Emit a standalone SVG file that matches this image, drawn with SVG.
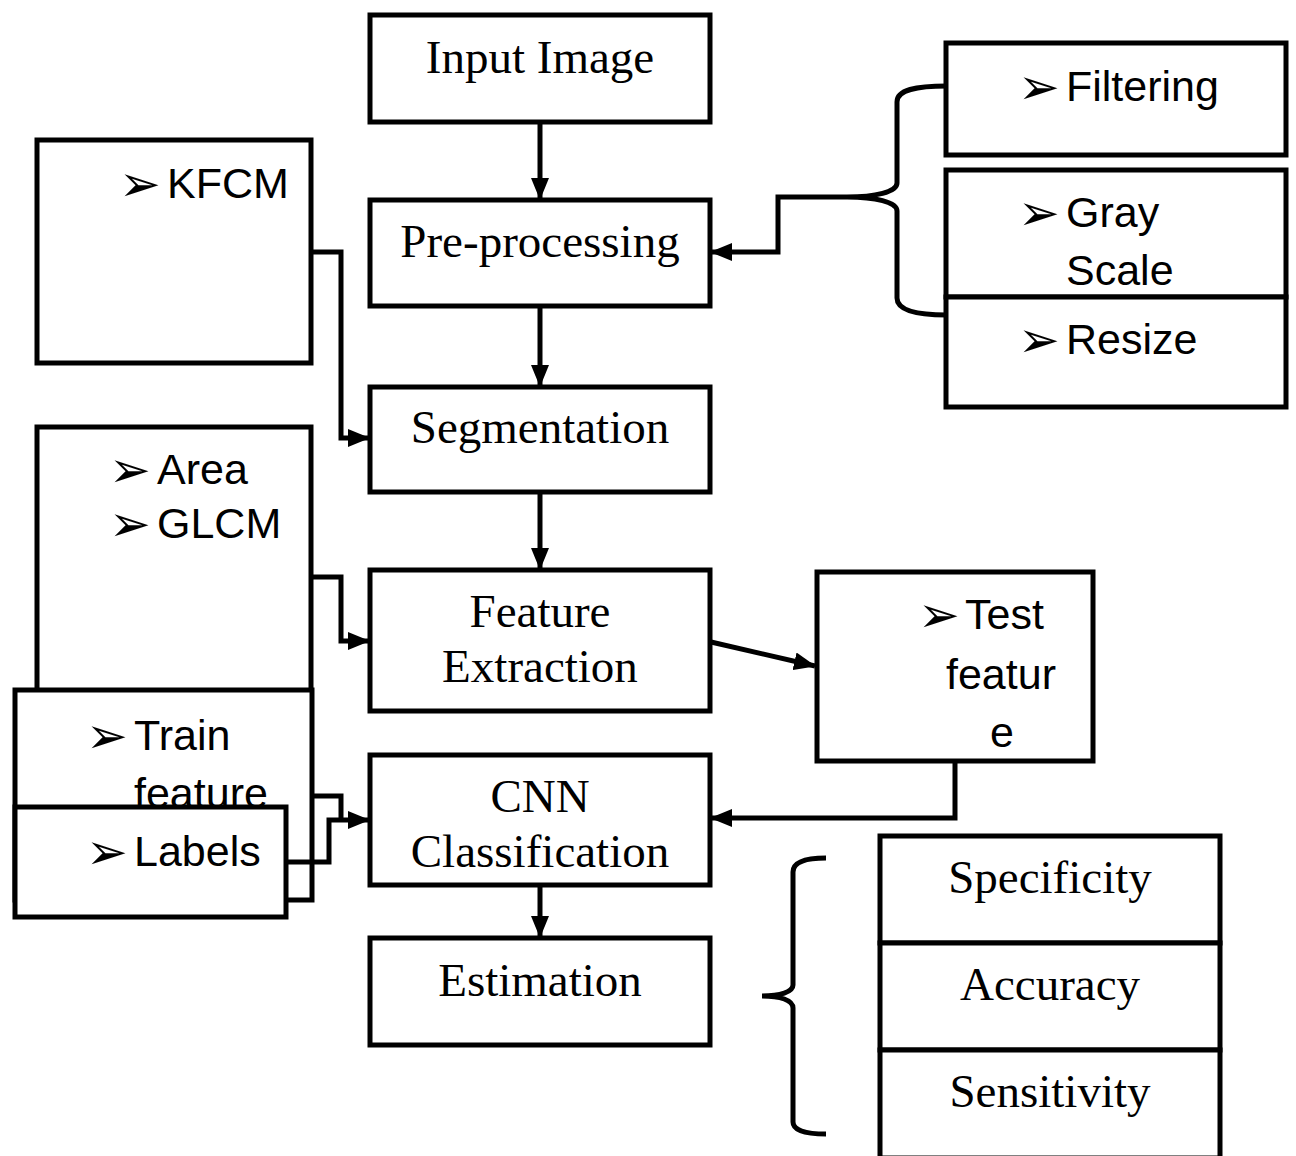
<svg xmlns="http://www.w3.org/2000/svg" width="1296" height="1156" viewBox="0 0 1296 1156">
<defs>
<marker id="ah" viewBox="0 0 22 18" refX="21" refY="9" markerWidth="22" markerHeight="18" markerUnits="userSpaceOnUse" orient="auto">
<path d="M0,0 L22,9 L0,18 z" fill="#000"/>
</marker>
<style>
.box{fill:#fff;stroke:#000;stroke-width:5}
.ser{font-family:"Liberation Serif","Times New Roman",serif;font-size:47px;fill:#000;text-anchor:middle}
.san{font-family:"Liberation Sans",Arial,sans-serif;font-size:43px;fill:#000}
.bul{font-family:"DejaVu Sans",sans-serif;font-size:50px;fill:#000}
.con{fill:none;stroke:#000;stroke-width:5}
</style>
</defs>
<rect width="1296" height="1156" fill="#fff"/>

<g id="input"><rect class="box" x="370" y="15" width="340" height="107"/><text class="ser" x="540" y="73">Input Image</text></g>
<g id="preproc"><rect class="box" x="370" y="200" width="340" height="106"/><text class="ser" x="540" y="257">Pre-processing</text></g>
<g id="seg"><rect class="box" x="370" y="387" width="340" height="105"/><text class="ser" x="540" y="443">Segmentation</text></g>
<g id="feat"><rect class="box" x="370" y="570" width="340" height="141"/><text class="ser" x="540" y="627">Feature</text><text class="ser" x="540" y="682">Extraction</text></g>
<g id="cnn"><rect class="box" x="370" y="755" width="340" height="130"/><text class="ser" x="540" y="812">CNN</text><text class="ser" x="540" y="867">Classification</text></g>
<g id="est"><rect class="box" x="370" y="938" width="340" height="107"/><text class="ser" x="540" y="996">Estimation</text></g>

<g id="filtering"><rect class="box" x="946" y="43" width="340" height="112"/><text class="bul" x="1018" y="104">➢</text><text class="san" x="1066" y="101">Filtering</text></g>
<g id="gray"><rect class="box" x="946" y="170" width="340" height="127"/><text class="bul" x="1018" y="230">➢</text><text class="san" x="1066" y="227">Gray</text><text class="san" x="1066" y="285">Scale</text></g>
<g id="resize"><rect class="box" x="946" y="297" width="340" height="110"/><text class="bul" x="1018" y="357">➢</text><text class="san" x="1066" y="354">Resize</text></g>

<g id="kfcm"><rect class="box" x="37" y="140" width="274" height="223"/><text class="bul" x="119" y="201">➢</text><text class="san" x="167" y="198">KFCM</text></g>
<g id="area"><rect class="box" x="37" y="427" width="274" height="330"/><text class="bul" x="109" y="487">➢</text><text class="san" x="157" y="484">Area</text><text class="bul" x="109" y="541">➢</text><text class="san" x="157" y="538">GLCM</text></g>
<g id="train"><rect class="box" x="15" y="690" width="297" height="210"/><text class="bul" x="86" y="753">➢</text><text class="san" x="134" y="750">Train</text><text class="san" x="134" y="808">feature</text></g>
<g id="labels"><rect class="box" x="15" y="807" width="271" height="110"/><text class="bul" x="86" y="869">➢</text><text class="san" x="134" y="866">Labels</text></g>

<g id="test"><rect class="box" x="817" y="572" width="276" height="189"/><text class="bul" x="918" y="632">➢</text><text class="san" x="965" y="629">Test</text><text class="san" x="946" y="689">featur</text><text class="san" x="1002" y="747" text-anchor="middle">e</text></g>

<g id="spec"><rect class="box" x="880" y="836" width="340" height="107"/><text class="ser" x="1050" y="893">Specificity</text></g>
<g id="acc"><rect class="box" x="880" y="943" width="340" height="107"/><text class="ser" x="1050" y="1000">Accuracy</text></g>
<g id="sens"><rect class="box" x="880" y="1050" width="340" height="108"/><text class="ser" x="1050" y="1107">Sensitivity</text></g>

<g id="connectors">
<path class="con" marker-end="url(#ah)" d="M540,122 V199"/>
<path class="con" marker-end="url(#ah)" d="M540,306 V386"/>
<path class="con" marker-end="url(#ah)" d="M540,492 V569"/>
<path class="con" marker-end="url(#ah)" d="M540,885 V937"/>
<path class="con" marker-end="url(#ah)" d="M311,252 H341 V438 H369"/>
<path class="con" marker-end="url(#ah)" d="M311,577 H341 V641 H369"/>
<path class="con" d="M312,796 H341 V820"/>
<path class="con" marker-end="url(#ah)" d="M286,862 H329 V820 H369"/>
<path class="con" marker-end="url(#ah)" d="M711,642 L815,666"/>
<path class="con" marker-end="url(#ah)" d="M955,761 V818 H711"/>
<path class="con" marker-end="url(#ah)" d="M847,197 H778 V252 H711"/>
<path class="con" d="M947,86 C915,86 897,90 897,102 V183 C897,192 875,197 847,197 C875,197 897,202 897,211 V298 C897,310 915,315 947,315"/>
<path class="con" d="M826,858 C805,858 793,862 793,872 V985 C793,992 780,996 762,996 C780,996 793,1000 793,1008 V1122 C793,1130 805,1134 826,1134"/>
</g>
</svg>
